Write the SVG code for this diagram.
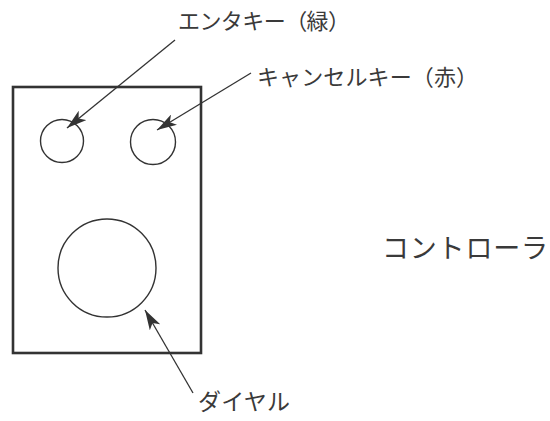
<svg xmlns="http://www.w3.org/2000/svg" width="550" height="421" viewBox="0 0 550 421">
  <style>
    .box { fill: none; stroke: #333; stroke-width: 2.6; }
    .btn { fill: none; stroke: #333; stroke-width: 1.4; }
    .lead { fill: none; stroke: #333; stroke-width: 1.3; }
    .lbl { font-family: "Noto Sans CJK JP", "Noto Sans", sans-serif; fill: #3a3a3a; }
  </style>
  <defs>
    <marker id="ah" viewBox="0 0 20 12" refX="20" refY="6" markerWidth="20" markerHeight="12" markerUnits="userSpaceOnUse" orient="auto">
      <path d="M0,0 L20,6 L0,12 L5,6 z" fill="#333"/>
    </marker>
  </defs>
  <rect width="550" height="421" fill="#fff"/>
  <g id="controller">
    <rect class="box" x="13" y="87" width="188" height="266"/>
    <text class="lbl" x="382" y="258" font-size="27" textLength="166">コントローラ</text>
  </g>
  <g id="enter-key">
    <circle class="btn" cx="62" cy="141" r="21.5"/>
    <text class="lbl" x="178" y="29" font-size="22" textLength="172">エンタキー（緑）</text>
  </g>
  <g id="cancel-key">
    <circle class="btn" cx="153" cy="142" r="22.5"/>
    <text class="lbl" x="257" y="85" font-size="22" textLength="221">キャンセルキー（赤）</text>
  </g>
  <g id="dial">
    <circle class="btn" cx="107" cy="268" r="49"/>
    <text class="lbl" x="198" y="410" font-size="23" textLength="92">ダイヤル</text>
  </g>
  <g id="connectors">
    <line class="lead" x1="175" y1="40" x2="67" y2="128" marker-end="url(#ah)"/>
    <line class="lead" x1="251" y1="73" x2="157" y2="130" marker-end="url(#ah)"/>
    <line class="lead" x1="193" y1="393" x2="145" y2="310" marker-end="url(#ah)"/>
  </g>
</svg>
